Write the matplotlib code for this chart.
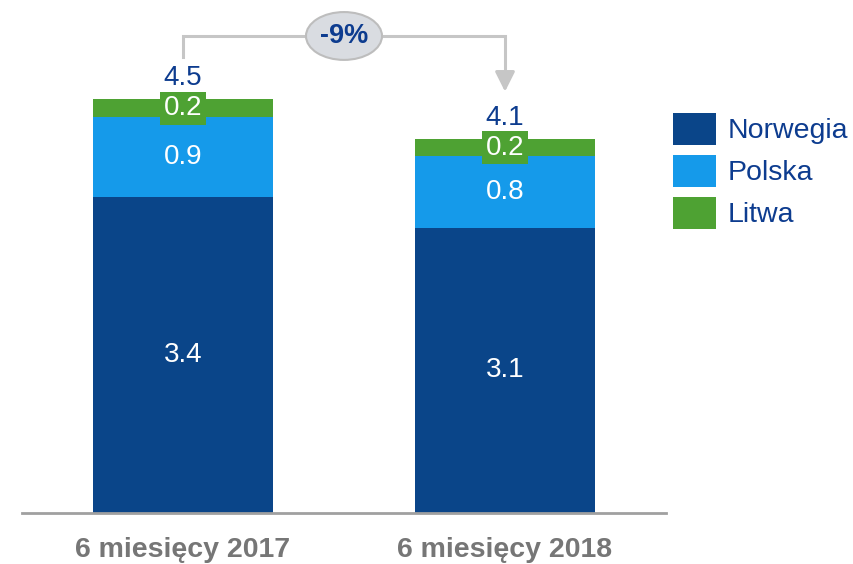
import matplotlib
matplotlib.use("Agg")
import matplotlib.pyplot as plt
import matplotlib.patches as mpatches
import numpy as np

# Dane (mld / 6 miesięcy)
periods = ["6 miesięcy 2017", "6 miesięcy 2018"]
norwegia = [3.43, 3.10]
polska = [0.87, 0.78]
litwa = [0.20, 0.18]
change_label = "-9%"

series_names = ["Norwegia", "Polska", "Litwa"]
colors = ["#0a4589", "#159aea", "#4ea233"]
text_blue = "#0d3c8f"

plt.rcParams["font.family"] = ["Liberation Sans", "DejaVu Sans"]

fig = plt.figure(figsize=(8.54, 5.64), dpi=100)
ax = fig.add_axes([22 / 854, 51 / 564, 644 / 854, 513 / 564])

x = np.arange(len(periods))
width = 0.56
series = [norwegia, polska, litwa]
bottom = np.zeros(len(periods))
for vals, col, name in zip(series, colors, series_names):
    vals = np.array(vals)
    ax.bar(x, vals, width, bottom=bottom, color=col, label=name, linewidth=0)
    for xi, b, v in zip(x, bottom, vals):
        kw = {}
        if name == "Litwa":
            kw["bbox"] = dict(boxstyle="square,pad=0.12", fc=col, ec="none")
        ax.text(xi, b + v / 2, f"{v:.1f}", ha="center", va="center",
                color="white", fontsize=20, **kw)
    bottom = bottom + vals

totals = bottom
for xi, t in zip(x, totals):
    ax.annotate(f"{t:.1f}", (xi, t), xytext=(0, 6), textcoords="offset points",
                ha="center", va="bottom", color=text_blue, fontsize=20)

# strzałka zmiany
grey = "#c6c6c6"
top = totals.max() + 0.685
ax.plot([x[0], x[0], x[1], x[1]], [totals[0] + 0.46, top, top, totals[1] + 0.7],
        color=grey, lw=2.2, solid_joinstyle="miter", clip_on=False)
ax.annotate("", xy=(x[1], totals[1] + 0.52), xytext=(x[1], totals[1] + 0.72),
            arrowprops=dict(arrowstyle="-|>,head_width=0.6,head_length=1.2",
                            color=grey, lw=2.2, shrinkA=0, shrinkB=0),
            annotation_clip=False)
ell = mpatches.Ellipse(((x[0] + x[1]) / 2, top), 0.236, 0.52, fc="#d9dce1",
                       ec="#bdbdbd", lw=1.5, clip_on=False, zorder=3)
ax.add_patch(ell)
ax.text((x[0] + x[1]) / 2, top, change_label, ha="center", va="center",
        fontsize=19.5, fontweight="bold", color=text_blue, zorder=4)

ax.set_xlim(-0.5, 1.5)
ax.set_ylim(0, 513 / 92)
for s in ["top", "right", "left"]:
    ax.spines[s].set_visible(False)
ax.spines["bottom"].set_color("#a0a0a0")
ax.spines["bottom"].set_linewidth(2)
ax.set_yticks([])
ax.set_xticks(x)
ax.set_xticklabels(periods, fontsize=20.5, fontweight="bold", color="#767676")
ax.tick_params(axis="x", length=0, pad=17)

ax.legend(loc="upper left", bbox_to_anchor=(673 / 854, 1 - 113 / 564),
          bbox_transform=fig.transFigure, frameon=False, fontsize=20.5,
          labelcolor=text_blue, handlelength=1.51, handleheight=1.35,
          handletextpad=0.42, labelspacing=0.35, borderpad=0, borderaxespad=0)

fig.savefig("out.png", dpi=100)
